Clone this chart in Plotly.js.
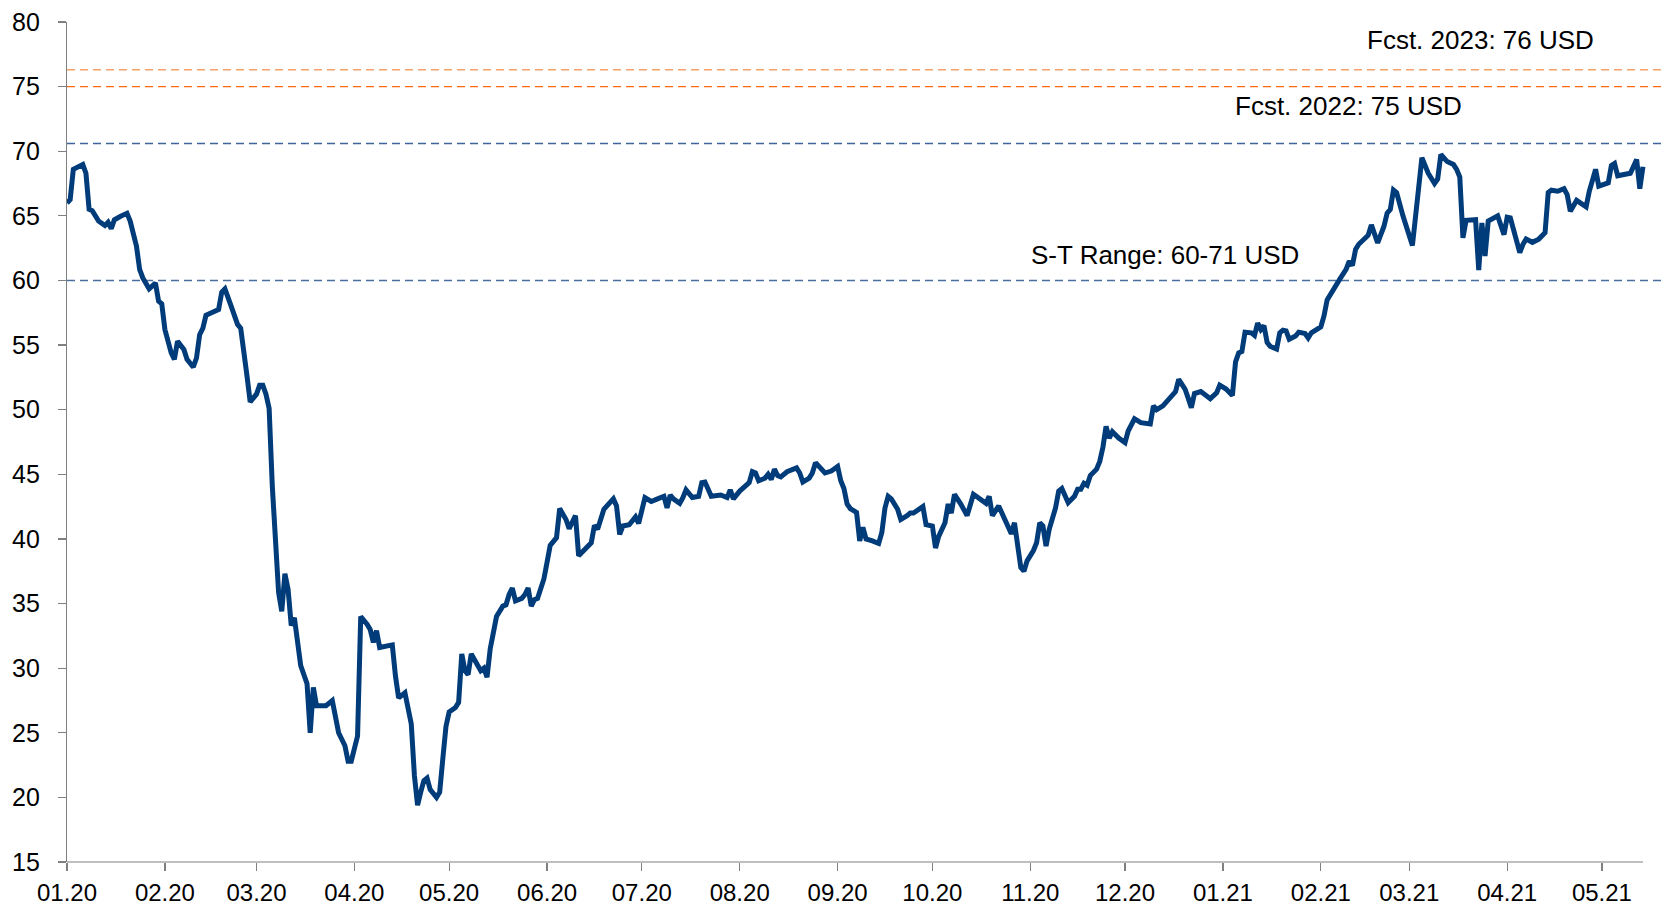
<!DOCTYPE html>
<html>
<head>
<meta charset="utf-8">
<script src="https://cdn.plot.ly/plotly-3.0.1.min.js"></script>
<style>
html,body{margin:0;padding:0;background:#fff;}
#chart{width:1669px;height:907px;}
</style>
</head>
<body>
<div id="chart"></div>
<script>
// Price series (USD)
const dates = [
"2020-01-01","2020-01-02","2020-01-03","2020-01-04","2020-01-06","2020-01-07","2020-01-08","2020-01-09","2020-01-10","2020-01-11",
"2020-01-13","2020-01-14","2020-01-15","2020-01-16","2020-01-18","2020-01-20","2020-01-21","2020-01-23","2020-01-24","2020-01-25",
"2020-01-27","2020-01-29","2020-01-30","2020-01-31","2020-02-01","2020-02-03","2020-02-04","2020-02-05","2020-02-07","2020-02-08",
"2020-02-10","2020-02-11","2020-02-12","2020-02-13","2020-02-14","2020-02-16","2020-02-18","2020-02-19","2020-02-20","2020-02-22",
"2020-02-24","2020-02-25","2020-02-26","2020-02-27","2020-02-28","2020-03-01","2020-03-02","2020-03-03","2020-03-04","2020-03-05",
"2020-03-06","2020-03-07","2020-03-08","2020-03-09","2020-03-10","2020-03-11","2020-03-12","2020-03-13","2020-03-14","2020-03-15",
"2020-03-17","2020-03-18","2020-03-19","2020-03-20","2020-03-23","2020-03-25","2020-03-27","2020-03-29","2020-03-30","2020-03-31",
"2020-04-02","2020-04-03","2020-04-05","2020-04-06","2020-04-07","2020-04-08","2020-04-09","2020-04-11","2020-04-13","2020-04-14",
"2020-04-15","2020-04-17","2020-04-18","2020-04-19","2020-04-20","2020-04-21","2020-04-22","2020-04-23","2020-04-24","2020-04-25",
"2020-04-27","2020-04-28","2020-04-29","2020-04-30","2020-05-01","2020-05-03","2020-05-04","2020-05-05","2020-05-06","2020-05-07",
"2020-05-08","2020-05-11","2020-05-12","2020-05-13","2020-05-14","2020-05-15","2020-05-16","2020-05-18","2020-05-19","2020-05-20",
"2020-05-21","2020-05-22","2020-05-24","2020-05-25","2020-05-26","2020-05-27","2020-05-28","2020-05-29","2020-05-31","2020-06-01",
"2020-06-02","2020-06-04","2020-06-05","2020-06-07","2020-06-08","2020-06-10","2020-06-11","2020-06-13","2020-06-15","2020-06-16",
"2020-06-17","2020-06-19","2020-06-22","2020-06-23","2020-06-24","2020-06-25","2020-06-27","2020-06-29","2020-06-30","2020-07-02",
"2020-07-04","2020-07-06","2020-07-08","2020-07-09","2020-07-10","2020-07-11","2020-07-13","2020-07-14","2020-07-15","2020-07-17",
"2020-07-19","2020-07-20","2020-07-21","2020-07-23","2020-07-26","2020-07-28","2020-07-29","2020-07-30","2020-08-01","2020-08-04",
"2020-08-05","2020-08-06","2020-08-07","2020-08-09","2020-08-10","2020-08-11","2020-08-12","2020-08-13","2020-08-14","2020-08-16",
"2020-08-19","2020-08-20","2020-08-21","2020-08-23","2020-08-24","2020-08-25","2020-08-26","2020-08-28","2020-08-30","2020-09-01",
"2020-09-02","2020-09-03","2020-09-04","2020-09-05","2020-09-07","2020-09-08","2020-09-09","2020-09-10","2020-09-12","2020-09-14",
"2020-09-15","2020-09-16","2020-09-17","2020-09-18","2020-09-20","2020-09-21","2020-09-23","2020-09-24","2020-09-25","2020-09-28",
"2020-09-29","2020-10-01","2020-10-02","2020-10-03","2020-10-05","2020-10-06","2020-10-07","2020-10-08","2020-10-10","2020-10-12",
"2020-10-14","2020-10-16","2020-10-18","2020-10-19","2020-10-20","2020-10-22","2020-10-24","2020-10-25","2020-10-26","2020-10-27",
"2020-10-28","2020-10-29","2020-10-30","2020-10-31","2020-11-02","2020-11-03","2020-11-04","2020-11-05","2020-11-06","2020-11-07",
"2020-11-09","2020-11-10","2020-11-11","2020-11-12","2020-11-13","2020-11-15","2020-11-16","2020-11-17","2020-11-18","2020-11-19",
"2020-11-20","2020-11-22","2020-11-23","2020-11-24","2020-11-25","2020-11-26","2020-11-27","2020-11-29","2020-12-01","2020-12-02",
"2020-12-04","2020-12-06","2020-12-09","2020-12-10","2020-12-11","2020-12-13","2020-12-15","2020-12-17","2020-12-18","2020-12-20",
"2020-12-21","2020-12-22","2020-12-23","2020-12-25","2020-12-28","2020-12-30","2020-12-31","2021-01-02","2021-01-04","2021-01-05",
"2021-01-06","2021-01-07","2021-01-08","2021-01-10","2021-01-11","2021-01-12","2021-01-13","2021-01-14","2021-01-15","2021-01-16",
"2021-01-18","2021-01-19","2021-01-20","2021-01-21","2021-01-22","2021-01-24","2021-01-25","2021-01-27","2021-01-28","2021-01-29",
"2021-02-01","2021-02-02","2021-02-03","2021-02-05","2021-02-07","2021-02-09","2021-02-10","2021-02-11","2021-02-12","2021-02-13",
"2021-02-15","2021-02-16","2021-02-17","2021-02-18","2021-02-19","2021-02-21","2021-02-22","2021-02-23","2021-02-24","2021-02-25",
"2021-02-27","2021-03-02","2021-03-05","2021-03-07","2021-03-09","2021-03-10","2021-03-11","2021-03-13","2021-03-15","2021-03-16",
"2021-03-17","2021-03-18","2021-03-19","2021-03-22","2021-03-23","2021-03-24","2021-03-25","2021-03-26","2021-03-29","2021-03-31",
"2021-04-01","2021-04-02","2021-04-05","2021-04-06","2021-04-07","2021-04-09","2021-04-11","2021-04-13","2021-04-14","2021-04-15",
"2021-04-17","2021-04-19","2021-04-20","2021-04-21","2021-04-23","2021-04-26","2021-04-27","2021-04-29","2021-04-30","2021-05-03",
"2021-05-04","2021-05-05","2021-05-06","2021-05-10","2021-05-12","2021-05-13","2021-05-14"
];
const prices = [
66.0,66.25,68.6,68.75,68.97,68.3,65.5,65.4,65.0,64.6,
64.25,64.5,64.0,64.7,64.97,65.2,64.6,62.65,60.85,60.2,
59.35,59.8,58.4,58.2,56.2,54.4,53.9,55.3,54.66,53.9,
53.3,54.0,55.8,56.3,57.3,57.55,57.75,59.1,59.35,58.0,
56.6,56.3,54.1,52.6,50.6,51.2,51.9,51.9,51.2,50.1,
44.1,38.95,35.85,34.4,37.3,36.1,33.3,33.9,32.2,30.2,
28.8,25.0,28.5,27.1,27.1,27.5,25.0,24.0,22.8,22.8,
24.75,34.0,33.4,33.0,32.0,32.9,31.6,31.7,31.8,29.4,
27.7,28.1,26.7,25.7,21.7,19.4,20.4,21.3,21.5,20.6,
20.0,20.4,23.0,25.5,26.6,26.95,27.35,31.1,29.8,29.5,
31.1,29.8,30.0,29.3,31.5,32.75,34.0,34.8,34.9,35.7,
36.2,35.2,35.4,35.7,36.2,34.8,35.3,35.4,36.9,38.2,
39.5,40.1,42.35,41.5,40.8,41.8,38.7,39.2,39.7,41.05,
40.75,42.3,43.1,42.55,40.35,41.0,41.1,41.7,41.2,43.2,
42.9,43.1,43.3,42.4,43.4,43.1,42.75,43.2,43.8,43.2,
43.3,44.35,44.4,43.3,43.4,43.2,43.8,43.1,43.7,44.35,
45.2,45.1,44.5,44.7,45.0,44.6,45.4,44.9,44.8,45.2,
45.5,45.1,44.4,44.7,45.1,45.9,45.6,45.1,45.25,45.6,
44.5,43.9,42.7,42.35,42.05,39.85,40.9,40.0,39.85,39.65,
40.5,42.4,43.3,43.1,42.3,41.5,41.8,42.0,42.0,42.5,
41.1,41.0,39.3,40.2,41.25,42.7,42.0,43.45,42.7,41.8,
43.45,43.1,42.75,43.3,41.8,42.55,41.5,40.75,40.4,41.25,
39.2,37.8,37.5,38.3,39.1,39.7,41.25,41.0,39.45,40.75,
42.4,43.7,43.9,43.45,42.8,43.3,43.85,43.85,44.3,44.15,
44.9,45.4,46.0,47.1,48.7,47.8,48.3,47.8,47.45,48.35,
49.3,49.0,48.9,50.3,50.0,50.3,50.8,51.4,52.35,51.6,
50.9,50.15,51.25,51.4,50.85,51.3,51.9,51.6,51.1,53.7,
54.4,54.5,56.0,55.95,55.75,56.7,56.2,56.5,55.2,54.9,
54.7,55.95,56.15,56.1,55.45,55.7,56.0,55.9,55.55,55.95,
56.4,57.25,58.5,59.35,60.1,60.85,61.5,61.15,62.4,62.8,
63.3,63.5,64.3,63.7,62.9,64.2,65.2,65.5,67.0,66.8,
65.0,62.7,69.5,68.3,67.5,67.85,69.75,69.2,68.97,68.6,
68.0,63.3,64.65,64.7,60.8,64.45,61.9,64.6,65.0,63.55,
64.9,64.85,62.15,62.8,63.2,62.95,63.2,63.7,66.8,66.98,
66.9,67.1,66.65,65.35,66.2,65.7,66.9,68.6,67.3,67.55,
68.9,69.05,68.1,68.3,69.35,67.1,68.8
];

// Reference levels (USD)
const levelValues = [76.3, 75.0, 70.6, 60.0];
const levelColors = ["#F6A26A", "#FF6A10", "#3F6599", "#4A6E9E"];
const labelTexts = ["Fcst. 2023: 76 USD", "Fcst. 2022: 75 USD", "S-T Range: 60-71 USD"];
const labelDates = ["2021-03-23 17:00", "2021-02-09 17:00", "2020-12-13 19:00"];
const labelValues = [78.58, 73.47, 61.95];

const yTicks = [15,20,25,30,35,40,45,50,55,60,65,70,75,80];

const family = "Liberation Sans, Arial, sans-serif";
const xFont = {family: family, size: 24, color: "#000000"};
const yFont = {family: family, size: 25, color: "#000000"};

const shapes = levelValues.map((v, i) => ({
  type: "line", xref: "paper", x0: 0, x1: 1, yref: "y", y0: v, y1: v,
  line: {color: levelColors[i], width: 1.4, dash: "8px,5px"}, layer: "below"
}));
shapes.push({
  type: "line", xref: "x", x0: "2020-01-01", x1: "2021-05-14", yref: "paper", y0: 0, y1: 0,
  line: {color: "#808080", width: 1.2}
});

const annotations = labelTexts.map((t, i) => ({
  text: t, x: labelDates[i], y: labelValues[i], xref: "x", yref: "y",
  showarrow: false, xanchor: "center", yanchor: "middle",
  font: {family: family, size: 26, color: "#000000"}
}));

const trace = {
  x: dates, y: prices, type: "scatter", mode: "lines",
  line: {color: "#003B7A", width: 5, shape: "linear"},
  hoverinfo: "skip"
};

const layout = {
  width: 1669, height: 907,
  margin: {l: 67, r: 3, t: 22, b: 45, pad: 0},
  paper_bgcolor: "#ffffff", plot_bgcolor: "#ffffff",
  showlegend: false,
  font: xFont,
  xaxis: {
    type: "date",
    range: ["2020-01-01", "2021-05-21 07:00"],
    tick0: "2020-01-01", dtick: "M1", tickformat: "%m.%y",
    showgrid: false, zeroline: false, showline: false,
    ticks: "outside", ticklen: 8, tickwidth: 1.2, tickcolor: "#808080",
    ticklabelstandoff: 1,
    tickfont: xFont
  },
  yaxis: {
    range: [15, 80],
    tickvals: yTicks,
    showgrid: false, zeroline: false,
    showline: true, linecolor: "#808080", linewidth: 1.2,
    ticks: "outside", ticklen: 8, tickwidth: 1.2, tickcolor: "#808080",
    ticklabelstandoff: 13,
    tickfont: yFont
  },
  shapes: shapes,
  annotations: annotations
};

Plotly.newPlot("chart", [trace], layout, {displayModeBar: false, staticPlot: true});
</script>
</body>
</html>
